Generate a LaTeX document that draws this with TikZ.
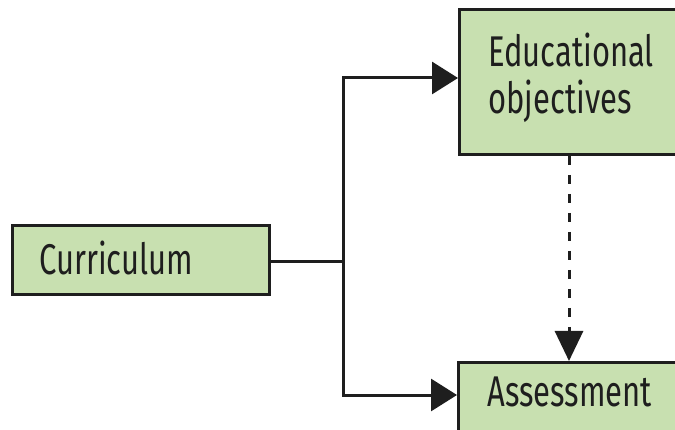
\documentclass[tikz,border=0pt]{standalone}
\usepackage{fontspec}
\setmainfont{Fira Sans}[FakeStretch=0.72]
\usetikzlibrary{arrows.meta}
\definecolor{boxgreen}{RGB}{200,224,176}
\definecolor{ink}{RGB}{30,30,30}
\tikzset{
  stage/.style={draw=ink, line width=3pt, fill=boxgreen, inner ysep=0pt,
    align=left, font=\fontsize{43}{45}\selectfont, text=ink, anchor=north west},
  flow/.style={draw=ink, line width=3pt, -{Triangle[length=26pt,width=32pt]}},
  hint/.style={draw=ink, line width=3pt, dash pattern=on 9pt off 10pt,
    -{Triangle[length=30pt,width=28pt]}},
  link/.style={draw=ink, line width=3pt}
}
\begin{document}
\begin{tikzpicture}[x=1pt,y=-1pt]
  \useasboundingbox (0,0) rectangle (675,430);
  \clip (0,0) rectangle (675,430);

  % the three stages
  \node[stage, inner xsep=27pt, text width=203pt, text height=49pt, text depth=20pt]
    (cur) at (11,224) {Curriculum};
  \node[stage, inner xsep=29pt, text width=184pt, text height=57pt, text depth=88pt]
    (edu) at (458,8) {\begin{tabular}[t]{@{}l@{}}Educational\\objectives\end{tabular}};
  \node[stage, inner xsep=29pt, text width=184pt, text height=44pt, text depth=57pt]
    (ass) at (457,361) {Assessment};

  % branching connectors from the curriculum
  \coordinate (fork) at (343,262);
  \draw[link] (cur.east |- fork) -- (fork);
  \draw[flow] (fork) |- (edu.west |- 0,78);
  \draw[flow] (fork) |- (ass.west |- 0,395);

  % objectives inform assessment
  \draw[hint] (edu.south -| 569,0) -- (ass.north -| 569,0);
\end{tikzpicture}
\end{document}
